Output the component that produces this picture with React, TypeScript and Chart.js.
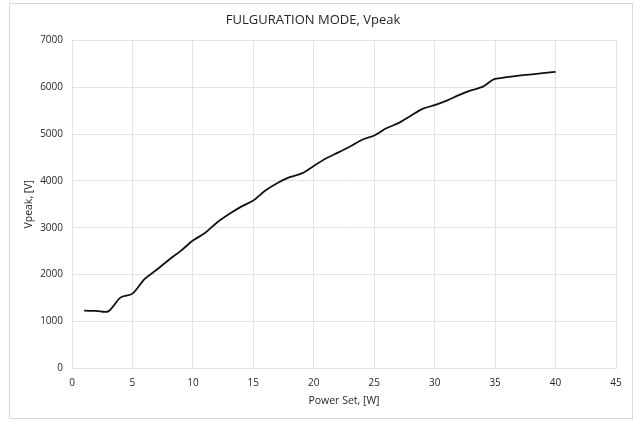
import React, { useEffect, useRef } from "react";
import { Chart, registerables } from "chart.js";

Chart.register(...registerables);

const powerSet = [1, 2, 3, 4, 5, 6, 7, 8, 9, 10, 11, 12, 13, 14, 15, 16, 17, 18, 19, 20, 21, 22, 23, 24, 25, 26, 27, 28, 29, 30, 31, 32, 33, 34, 35, 40];
const vpeak = [1225, 1220, 1210, 1505, 1590, 1900, 2100, 2310, 2505, 2725, 2885, 3110, 3290, 3450, 3580, 3795, 3955, 4080, 4160, 4320, 4480, 4605, 4735, 4880, 4970, 5125, 5235, 5390, 5540, 5620, 5715, 5835, 5935, 6015, 6180, 6330];
const xTicks = [0, 5, 10, 15, 20, 25, 30, 35, 40, 45];
const yTicks = [0, 1000, 2000, 3000, 4000, 5000, 6000, 7000];

const FONT = "'Open Sans', 'Liberation Sans', sans-serif";
const TEXT = "#262626";
const GRID = "#e3e3e3";

export default function App() {
  const ref = useRef<HTMLCanvasElement>(null);
  useEffect(() => {
    if (!ref.current) return;
    const chart = new Chart(ref.current, {
      type: "line",
      data: {
        datasets: [
          {
            data: powerSet.map((x, i) => ({ x, y: vpeak[i] })),
            borderColor: "#111111",
            borderWidth: 1.8,
            pointRadius: 0,
            tension: 0.3,
            fill: false,
          },
        ],
      },
      options: {
        animation: false,
        responsive: false,
        maintainAspectRatio: false,
        layout: { padding: { left: 0, right: 16, top: 0, bottom: 0 } },
        plugins: {
          legend: { display: false },
          tooltip: { enabled: false },
          title: {
            display: true,
            text: "FULGURATION MODE, Vpeak",
            color: TEXT,
            font: { family: FONT, size: 13, weight: "normal" },
            padding: { top: 8, bottom: 13 },
          },
        },
        scales: {
          x: {
            type: "linear",
            min: 0,
            max: 45,
            afterBuildTicks: (s: any) => {
              s.ticks = xTicks.map((v) => ({ value: v }));
            },
            afterFit: (s: any) => {
              s.height = 50;
            },
            grid: { color: GRID, drawTicks: false },
            border: { color: GRID },
            ticks: { color: TEXT, font: { family: FONT, size: 10 }, padding: 9, maxRotation: 0, callback: (v: any) => String(v) },
            title: {
              display: true,
              text: "Power Set, [W]",
              color: TEXT,
              font: { family: FONT, size: 10.5 },
              padding: { top: 0, bottom: 11 },
            },
          },
          y: {
            type: "linear",
            min: 0,
            max: 7000,
            afterBuildTicks: (s: any) => {
              s.ticks = yTicks.map((v) => ({ value: v }));
            },
            afterFit: (s: any) => {
              s.width = 62;
            },
            grid: { color: GRID, drawTicks: false },
            border: { color: GRID },
            ticks: { color: TEXT, font: { family: FONT, size: 10 }, padding: 9, callback: (v: any) => String(v) },
            title: {
              display: true,
              text: "Vpeak, [V]",
              color: TEXT,
              font: { family: FONT, size: 10.5 },
              padding: { top: 13, bottom: 0 },
            },
          },
        },
      },
    });
    return () => chart.destroy();
  }, []);

  return (
    <div
      style={{
        position: "fixed",
        left: 9,
        top: 3,
        width: 622,
        height: 414,
        border: "1px solid #d9d9d9",
        background: "#ffffff",
      }}
    >
      <canvas ref={ref} width={622} height={414} style={{ display: "block" }} />
    </div>
  );
}
